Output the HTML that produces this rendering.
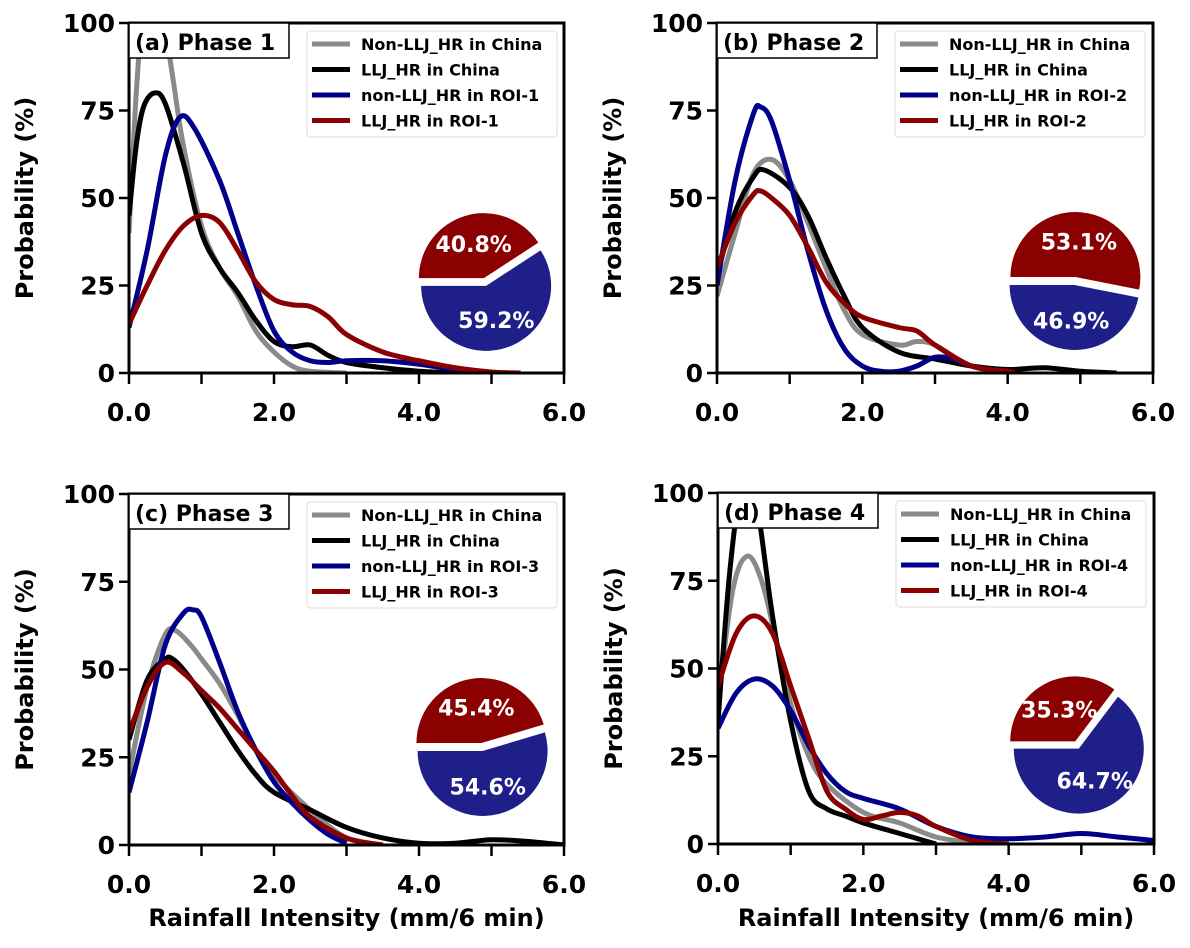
<!DOCTYPE html>
<html><head><meta charset="utf-8"><style>
body{margin:0;background:#fff}
svg{display:block}
text{font-family:"DejaVu Sans","Liberation Sans",sans-serif;font-weight:bold}
</style></head><body>
<svg id="fig" width="1190" height="948" viewBox="0 0 1190 948" xmlns="http://www.w3.org/2000/svg"></svg>
<script>
const seriesNames=["Non-LLJ_HR in China","LLJ_HR in China","non-LLJ_HR in ROI-","LLJ_HR in ROI-"];
const seriesColors=["#8a8a8a","#000000","#00008b","#8b0000"];
const xTicks=[0,1,2,3,4,5,6];
const xTickLabels=["0.0","","2.0","","4.0","","6.0"];
const yTicks=[0,25,50,75,100];
const panelTitles=["(a) Phase 1","(b) Phase 2","(c) Phase 3","(d) Phase 4"];
const pieRed=[40.8,53.1,45.4,35.3];
const pieBlue=[59.2,46.9,54.6,64.7];
// panel a
const aGrayX=[0,0.1,0.2,0.33,0.45,0.6,0.75,1.0,1.25,1.5,1.75,2.0,2.25,2.5,3.0];
const aGrayY=[40,80,105,115,105,85,65,42,30,22,12,6,2,0.5,0];
const aBlackX=[0,0.1,0.2,0.35,0.5,0.75,1.0,1.25,1.5,1.75,2.0,2.25,2.5,2.75,3.0,3.5,4.0,4.5];
const aBlackY=[45,65,76,80,77,60,40,30,23,15,9,7.5,8,5,3,1.5,0.5,0];
const aBlueX=[0,0.25,0.5,0.7,0.9,1.25,1.5,1.75,2.0,2.25,2.5,2.75,3.0,3.5,4.0,4.5,5.0];
const aBlueY=[13,35,62,73,70,55,40,25,12,6,3.5,3,3.5,3.5,2.5,1,0];
const aRedX=[0,0.25,0.5,0.75,1.0,1.25,1.5,1.75,2.0,2.25,2.5,2.75,3.0,3.5,4.0,4.5,5.0,5.4];
const aRedY=[14,25,35,42,45,43,35,26,21,19.5,19,16,11,6,3.5,1.5,0.3,0];
// panel b
const bGrayX=[0,0.25,0.5,0.75,1.0,1.25,1.5,1.75,2.0,2.5,2.75,3.0,3.5,4.0];
const bGrayY=[22,40,57,61,55,43,30,18,11,8,9,8,2,0];
const bBlackX=[0,0.25,0.5,0.65,1.0,1.25,1.5,1.75,2.0,2.5,3.0,3.5,4.0,4.5,5.0,5.5];
const bBlackY=[28,46,56,58,53,45,33,22,13,6,4,2,1,1.5,0.5,0];
const bBlueX=[0,0.25,0.5,0.6,0.75,1.0,1.25,1.5,1.75,2.0,2.25,2.5,2.75,3.0,3.25,3.5,4.0];
const bBlueY=[25,55,74,76,72,55,35,18,7,2,0.5,0.5,2,4.5,4,2,0];
const bRedX=[0,0.25,0.5,0.6,0.75,1.0,1.25,1.5,1.75,2.0,2.5,2.75,3.0,3.5,4.0,4.1];
const bRedY=[30,43,51,52,50,45,36,26,20,16,13,12,8,2,0.5,0];
// panel c
const cGrayX=[0,0.25,0.5,0.65,0.85,1.0,1.25,1.5,1.75,2.0,2.5,3.0,3.5];
const cGrayY=[20,45,60,61,57,53,46,37,27,20,10,2,0];
const cBlackX=[0,0.25,0.5,0.6,0.75,1.0,1.25,1.5,1.75,2.0,2.5,3.0,3.5,4.0,4.5,5.0,5.5,6.0];
const cBlackY=[30,47,53,53,50,43,35,27,20,15,10,5,2,0.5,0.5,1.5,1,0];
const cBlueX=[0,0.25,0.5,0.75,0.88,1.0,1.25,1.5,1.75,2.0,2.25,2.5,2.75,3.0];
const cBlueY=[15,35,57,66,67,65,52,38,27,18,12,7,3,0.5];
const cRedX=[0,0.25,0.5,0.75,1.0,1.25,1.5,1.75,2.0,2.25,2.5,3.0,3.5];
const cRedY=[32,45,52,49,44,39,33,27,21,14,8,2,0];
// panel d
const dGrayX=[0,0.2,0.4,0.6,0.8,1.0,1.25,1.5,2.0,2.5,3.0,3.5,4.0];
const dGrayY=[40,72,82,75,58,40,25,17,9,6,2,0.5,0];
const dBlackX=[0,0.15,0.3,0.42,0.55,0.75,1.0,1.25,1.5,1.75,2.0,2.5,3.0];
const dBlackY=[35,75,100,105,95,65,35,15,10,8,6,3,0];
const dBlueX=[0,0.25,0.5,0.75,1.0,1.25,1.5,1.75,2.0,2.5,3.0,3.5,4.0,4.5,5.0,5.5,6.0];
const dBlueY=[33,43,47,45,38,28,20,15,13,10,5,2,1.5,2,3,2,1];
const dRedX=[0,0.25,0.5,0.75,1.0,1.25,1.5,1.75,2.0,2.25,2.5,2.75,3.0,3.5,4.0];
const dRedY=[45,60,65,60,45,30,15,10,7,8,9,8,5,1,0];

const panelData=[
 [[aGrayX,aGrayY],[aBlackX,aBlackY],[aBlueX,aBlueY],[aRedX,aRedY]],
 [[bGrayX,bGrayY],[bBlackX,bBlackY],[bBlueX,bBlueY],[bRedX,bRedY]],
 [[cGrayX,cGrayY],[cBlackX,cBlackY],[cBlueX,cBlueY],[cRedX,cRedY]],
 [[dGrayX,dGrayY],[dBlackX,dBlackY],[dBlueX,dBlueY],[dRedX,dRedY]]];

const NS="http://www.w3.org/2000/svg";
const svg=document.getElementById('fig');
function mk(tag,attrs,parent){const e=document.createElementNS(NS,tag);for(const k in attrs)e.setAttribute(k,attrs[k]);(parent||svg).appendChild(e);return e;}
const layout=[{l:129,t:23,r:564,b:373},{l:717,t:23,r:1153,b:373},{l:129,t:494,r:564,b:845},{l:718,t:493,r:1154,b:844}];
const pies=[{cx:485,cy:282},{cx:1075,cy:281},{cx:482,cy:747},{cx:1077,cy:745}];
const R=65;
function smooth(pts){let d=`M${pts[0][0]},${pts[0][1]}`;for(let i=0;i<pts.length-1;i++){const p0=pts[Math.max(0,i-1)],p1=pts[i],p2=pts[i+1],p3=pts[Math.min(pts.length-1,i+2)];const c1=[p1[0]+(p2[0]-p0[0])/6,p1[1]+(p2[1]-p0[1])/6],c2=[p2[0]-(p3[0]-p1[0])/6,p2[1]-(p3[1]-p1[1])/6];d+=`C${c1[0]},${c1[1]} ${c2[0]},${c2[1]} ${p2[0]},${p2[1]}`;}return d;}
layout.forEach((L,pi)=>{
 const g=mk('g',{});
 
 
 const xs=v=>L.l+(L.r-L.l)*v/6, ys=v=>L.b-(L.b-L.t)*v/100;
 const cp=mk('clipPath',{id:'cp'+pi},g);mk('rect',{x:L.l,y:L.t,width:L.r-L.l,height:L.b-L.t},cp);
 panelData[pi].forEach((s,si)=>{
  const pts=s[0].map((x,i)=>[xs(x),ys(s[1][i])]);
  const p=mk('path',{d:smooth(pts),fill:'none',stroke:seriesColors[si],'stroke-width':5,'clip-path':`url(#cp${pi})`,'stroke-linejoin':'round'},g);
  
  
 });
 const fr=mk('rect',{x:L.l,y:L.t,width:L.r-L.l,height:L.b-L.t,fill:'none',stroke:'#000','stroke-width':3},g);
 
 xTicks.forEach((v,i)=>{mk('line',{x1:xs(v),x2:xs(v),y1:L.b,y2:L.b+11,stroke:'#000','stroke-width':2.5},g);
  if(xTickLabels[i]){const t=mk('text',{x:xs(v),y:L.b+48,'text-anchor':'middle','font-size':25},g);t.textContent=xTickLabels[i];}});
 yTicks.forEach(v=>{mk('line',{x1:L.l-10,x2:L.l,y1:ys(v),y2:ys(v),stroke:'#000','stroke-width':2.5},g);
  const t=mk('text',{x:L.l-14,y:ys(v)+9,'text-anchor':'end','font-size':25},g);t.textContent=v;});
 const yt=mk('text',{x:0,y:0,'text-anchor':'middle','font-size':24,transform:`translate(${L.l-96},${(L.t+L.b)/2}) rotate(-90)`},g);yt.textContent='Probability (%)';
 
 if(pi>=2){const xt=mk('text',{x:(L.l+L.r)/2,y:926,'text-anchor':'middle','font-size':24},g);xt.textContent='Rainfall Intensity (mm/6 min)';}
 const tb=mk('rect',{x:L.l,y:L.t,width:160,height:35,fill:'#fff',stroke:'#000','stroke-width':1.5},g);
 
 const tt=mk('text',{x:L.l+6,y:L.t+27,'font-size':22},g);tt.textContent=panelTitles[pi];
 const lg=mk('g',{},g);
 mk('rect',{x:L.l+178,y:L.t+8,width:250,height:106,rx:3,fill:'#fff',stroke:'#ddd','stroke-width':1},lg);
 seriesNames.forEach((n,si)=>{const yy=L.t+21+si*25.5;
  mk('line',{x1:L.l+183,x2:L.l+221,y1:yy,y2:yy,stroke:seriesColors[si],'stroke-width':5},lg);
  const t=mk('text',{x:L.l+232,y:yy+6,'font-size':16},lg);t.textContent=si>=2?n+(pi+1):n;
  });
 const P=pies[pi];const red=pieRed[pi],blue=pieBlue[pi];
 const a0=Math.PI, a1=Math.PI-red/100*2*Math.PI;
 const mid=(a0+a1)/2, ex=4;
 function arc(cx,cy,s,e){const x1=cx+R*Math.cos(s),y1=cy-R*Math.sin(s),x2=cx+R*Math.cos(e),y2=cy-R*Math.sin(e);const large=Math.abs(s-e)>Math.PI?1:0;return `M${cx},${cy}L${x1},${y1}A${R},${R} 0 ${large} 1 ${x2},${y2}Z`;}
 const rcx=P.cx+ex*Math.cos(mid),rcy=P.cy-ex*Math.sin(mid);
 const rp=mk('path',{d:arc(rcx,rcy,a0,a1),fill:'#8b0000'},g);
 const mid2=mid-Math.PI, bcx=P.cx+ex*Math.cos(mid2),bcy=P.cy-ex*Math.sin(mid2);
 const bp=mk('path',{d:arc(bcx,bcy,a1,a0-2*Math.PI),fill:'#1f1f8a'},g);
 const rt=mk('text',{x:rcx+0.55*R*Math.cos(mid),y:rcy-0.55*R*Math.sin(mid)+8,'text-anchor':'middle','font-size':22,fill:'#fff'},g);rt.textContent=red.toFixed(1)+'%';
 
 const bt=mk('text',{x:bcx+0.55*R*Math.cos(mid2),y:bcy-0.55*R*Math.sin(mid2)+8,'text-anchor':'middle','font-size':22,fill:'#fff'},g);bt.textContent=blue.toFixed(1)+'%';
 
});
</script>
</body></html>
